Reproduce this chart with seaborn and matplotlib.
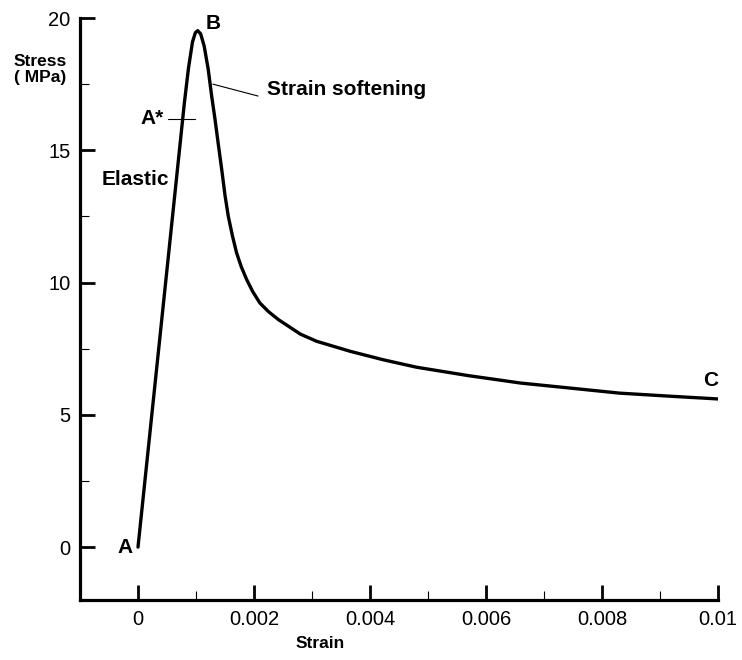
import numpy as np
import pandas as pd
import seaborn as sns
import matplotlib
import matplotlib.pyplot as plt
from matplotlib.ticker import MultipleLocator

matplotlib.use('Agg')

# stress-strain curve
strain = [0, 0.0002, 0.0004, 0.0006, 0.0008, 0.00087, 0.00094, 0.00099,
          0.00103, 0.00108, 0.00114, 0.00121, 0.00127, 0.001328, 0.00138,
          0.001443, 0.0015, 0.001557, 0.00163, 0.0017, 0.00178, 0.001874,
          0.00198, 0.0021, 0.00225, 0.00242, 0.0028, 0.00308, 0.00366,
          0.00423, 0.0048, 0.0057, 0.0066, 0.0075, 0.0083, 0.0092, 0.01]
stress = [0, 4.2, 8.4, 12.6, 16.8, 18.1, 19.1, 19.45,
          19.52, 19.4, 18.95, 18.07, 17.05, 16.17, 15.3,
          14.28, 13.3, 12.5, 11.75, 11.12, 10.6, 10.11,
          9.65, 9.23, 8.9, 8.6, 8.05, 7.78, 7.4,
          7.08, 6.8, 6.48, 6.2, 6.0, 5.82, 5.7, 5.6]

x_ticks = [0, 0.002, 0.004, 0.006, 0.008, 0.01]
x_tick_labels = ['0', '0.002', '0.004', '0.006', '0.008', '0.01']
y_ticks = [0, 5, 10, 15, 20]

df = pd.DataFrame({'strain': strain, 'stress': stress})

sns.set_theme(style='ticks')
plt.rcParams['font.family'] = ['Liberation Sans', 'DejaVu Sans']
plt.rcParams['text.color'] = 'black'
plt.rcParams['axes.labelcolor'] = 'black'

fig = plt.figure(figsize=(7.42, 6.6), dpi=100)
ax = fig.add_axes([80 / 742, 60 / 660, 638 / 742, 582 / 660])

sns.lineplot(data=df, x='strain', y='stress', sort=False, estimator=None,
             color='black', linewidth=2.4, ax=ax)

ax.set_xlim(-0.001, 0.01)
ax.set_ylim(-2, 20)
ax.set_xticks(x_ticks)
ax.set_xticklabels(x_tick_labels)
ax.set_yticks(y_ticks)
ax.xaxis.set_minor_locator(MultipleLocator(0.001))
ax.yaxis.set_minor_locator(MultipleLocator(2.5))

for side in ['top', 'right']:
    ax.spines[side].set_visible(False)
for side in ['left', 'bottom']:
    ax.spines[side].set_linewidth(2.3)
    ax.spines[side].set_color('black')
ax.spines['left'].set_bounds(-2, 20)

ax.tick_params(which='major', direction='in', length=11, width=2,
               labelsize=14.5, pad=7, colors='black', labelcolor='black')
ax.tick_params(which='minor', direction='in', length=6.5, width=0.8,
               colors='black')

ax.set_xlabel('Strain', fontsize=12.5, fontweight='bold', color='black')
ax.xaxis.set_label_coords(0.376, -0.062)
ax.set_ylabel('Stress\n( MPa)', fontsize=12.5, fontweight='bold', rotation=0,
              ha='center', va='center', linespacing=1.05, color='black')
ax.yaxis.set_label_coords(-0.063, 0.911)

lbl = dict(fontsize=15, fontweight='bold', ha='center', va='center',
           color='black')
ax.text(-0.00022, 0.0, 'A', **lbl)
ax.text(0.00129, 19.8, 'B', **lbl)
ax.text(0.00988, 6.3, 'C', **lbl)
ax.text(0.00024, 16.2, 'A*', **lbl)
ax.text(-0.00005, 13.9, 'Elastic', **lbl)
ax.text(0.00222, 17.3, 'Strain softening', fontsize=15, fontweight='bold',
        ha='left', va='center', color='black')

# marker line at A* and leader for strain softening
ax.plot([0.00052, 0.00098], [16.2, 16.2], color='black', linewidth=0.8)
ax.plot([0.00129, 0.00207], [17.5, 17.05], color='black', linewidth=0.8)

fig.savefig('out.png', dpi=100)
plt.close(fig)
